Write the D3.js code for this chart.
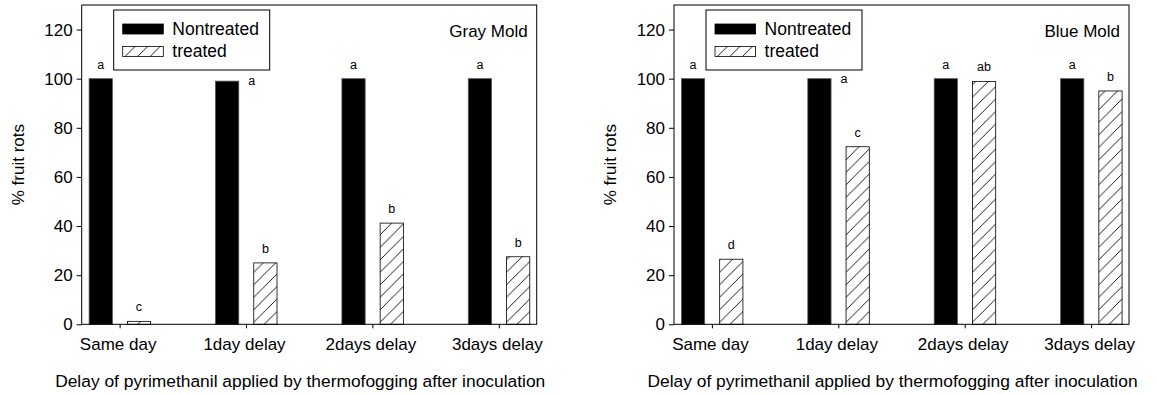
<!DOCTYPE html>
<html>
<head>
<meta charset="utf-8">
<script src="https://cdn.jsdelivr.net/npm/d3@7"></script>
<style>
  body { margin: 0; background: #fff; }
  text { font-family: "Liberation Sans", Arial, sans-serif; fill: #000; }
</style>
</head>
<body>
<svg id="chart" width="1156" height="394"></svg>
<script>
// data
const categories = ["Same day", "1day delay", "2days delay", "3days delay"];
const seriesNames = ["Nontreated", "treated"];
const yTicks = [0, 20, 40, 60, 80, 100, 120];

const grayNontreated = [100, 99, 100, 100];
const grayTreated = [1.2, 25, 41.2, 27.5];
const grayNontreatedLetters = ["a", "a", "a", "a"];
const grayTreatedLetters = ["c", "b", "b", "b"];

const blueNontreated = [100, 100, 100, 100];
const blueTreated = [26.5, 72.3, 98.9, 95];
const blueNontreatedLetters = ["a", "a", "a", "a"];
const blueTreatedLetters = ["d", "c", "ab", "b"];

const xTitle = "Delay of pyrimethanil applied by thermofogging after inoculation";
const yTitle = "% fruit rots";

const svg = d3.select("#chart");

// hatch pattern for the treated bars
svg.append("defs").append("pattern")
    .attr("id", "hatch")
    .attr("patternUnits", "userSpaceOnUse")
    .attr("width", 12.5)
    .attr("height", 12.5)
  .append("path")
    .attr("d", "M0,12.5 L12.5,0 M-3,3 L3,-3 M9.5,15.5 L15.5,9.5")
    .attr("stroke", "#000")
    .attr("stroke-width", 0.9);

const width = 455, height = 319.3;

function drawPanel(left, title, nontreated, treated, ntLetters, tLetters) {
  const g = svg.append("g").attr("transform", `translate(${left},5)`);

  const x = d3.scalePoint().domain(categories).range([0, width]).padding(0.3);
  const inner = d3.scaleBand().domain(seriesNames).range([-30.5, 31]).paddingInner(0.392);
  const y = d3.scaleLinear().domain([0, 130]).range([height, 0]);

  const rows = categories.map((c, i) => ({
    cat: c,
    values: [
      { s: "Nontreated", v: nontreated[i], letter: ntLetters[i] },
      { s: "treated", v: treated[i], letter: tLetters[i] }
    ]
  }));

  const grp = g.selectAll(".grp")
    .data(rows)
    .join("g")
      .attr("class", "grp")
      .attr("transform", d => `translate(${x(d.cat)},0)`);

  grp.selectAll("rect")
    .data(d => d.values)
    .join("rect")
      .attr("x", d => inner(d.s))
      .attr("y", d => y(d.v))
      .attr("width", inner.bandwidth())
      .attr("height", d => height - y(d.v))
      .attr("fill", d => d.s === "Nontreated" ? "#000" : "url(#hatch)")
      .attr("stroke", d => d.s === "Nontreated" ? "#555" : "#000")
      .attr("stroke-width", 0.8);

  // significance letters; the 1day nontreated one sits beside its bar
  grp.selectAll(".letter")
    .data(d => d.values.map(v => ({ ...v, cat: d.cat })))
    .join("text")
      .attr("class", "letter")
      .attr("font-size", 12.5)
      .attr("text-anchor", "middle")
      .attr("x", d => (d.s === "Nontreated" && d.cat === "1day delay")
        ? inner(d.s) + inner.bandwidth() + 13
        : inner(d.s) + inner.bandwidth() / 2)
      .attr("y", d => (d.s === "Nontreated" && d.cat === "1day delay")
        ? y(d.v) + 4
        : y(d.v) - 10)
      .text(d => d.letter);

  // frame
  g.append("rect")
    .attr("width", width)
    .attr("height", height)
    .attr("fill", "none")
    .attr("stroke", "#000")
    .attr("stroke-width", 1);

  const yAxis = g.append("g")
    .call(d3.axisLeft(y).tickValues(yTicks).tickSize(5).tickPadding(4));
  yAxis.select(".domain").remove();
  yAxis.selectAll("text").attr("font-size", 17).attr("font-family", null);

  const xAxis = g.append("g")
    .attr("transform", `translate(0,${height})`)
    .call(d3.axisBottom(x).tickSize(4).tickPadding(10));
  xAxis.select(".domain").remove();
  xAxis.selectAll("text").attr("font-size", 17).attr("font-family", null)
    .attr("dx", -2);

  g.append("text")
    .attr("x", width / 2 - 9)
    .attr("y", 382)
    .attr("text-anchor", "middle")
    .attr("font-size", 17.4)
    .text(xTitle);

  g.append("text")
    .attr("transform", `translate(${-58},${y(65)}) rotate(-90)`)
    .attr("text-anchor", "middle")
    .attr("font-size", 17)
    .text(yTitle);

  g.append("text")
    .attr("x", width - 9)
    .attr("y", 32)
    .attr("text-anchor", "end")
    .attr("font-size", 17)
    .text(title);

  // legend
  const lg = g.append("g").attr("transform", "translate(32,5)");
  lg.append("rect")
    .attr("width", 156)
    .attr("height", 60)
    .attr("fill", "#fff")
    .attr("stroke", "#000")
    .attr("stroke-width", 1);

  const item = lg.selectAll(".item")
    .data(seriesNames)
    .join("g")
      .attr("class", "item")
      .attr("transform", (d, i) => `translate(9,${14 + i * 22.4})`);

  item.append("rect")
    .attr("width", 40.6)
    .attr("height", 10)
    .attr("fill", d => d === "Nontreated" ? "#000" : "url(#hatch)")
    .attr("stroke", "#000")
    .attr("stroke-width", 0.8);

  item.append("text")
    .attr("x", 49.6)
    .attr("y", 11)
    .attr("font-size", 17.5)
    .text(d => d);
}

drawPanel(81.7, "Gray Mold", grayNontreated, grayTreated, grayNontreatedLetters, grayTreatedLetters);
drawPanel(674, "Blue Mold", blueNontreated, blueTreated, blueNontreatedLetters, blueTreatedLetters);
</script>
</body>
</html>
